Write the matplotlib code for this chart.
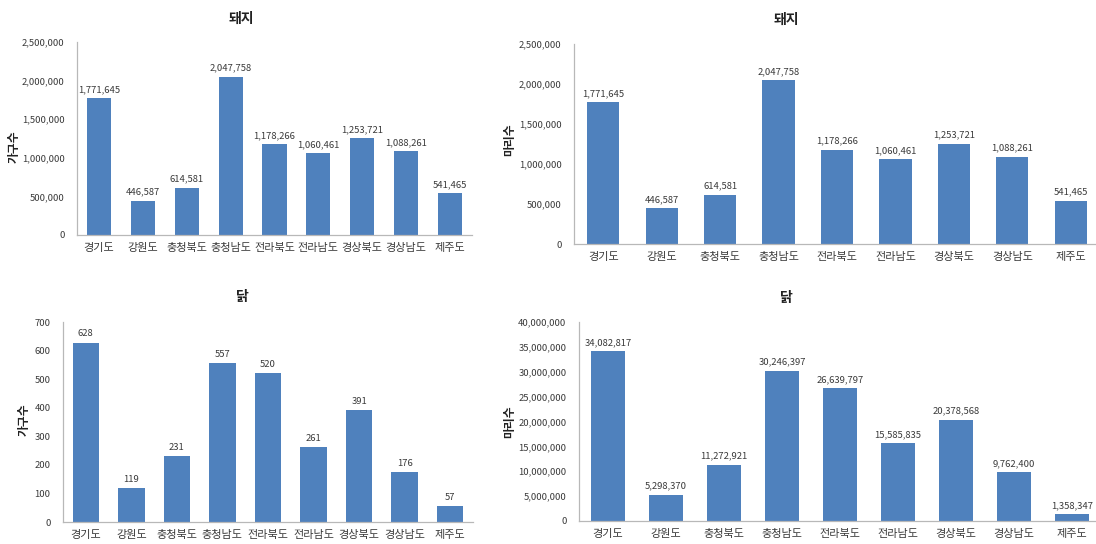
import numpy as np
import matplotlib
matplotlib.use("Agg")
import matplotlib.pyplot as plt
from matplotlib.ticker import FuncFormatter

plt.rcParams['font.family'] = ['Noto Sans CJK KR', 'DejaVu Sans']

# === DATA ===
regions = ['경기도', '강원도', '충청북도', '충청남도', '전라북도', '전라남도', '경상북도', '경상남도', '제주도']
pig_households = [1771645, 446587, 614581, 2047758, 1178266, 1060461, 1253721, 1088261, 541465]
pig_heads = [1771645, 446587, 614581, 2047758, 1178266, 1060461, 1253721, 1088261, 541465]
chicken_households = [628, 119, 231, 557, 520, 261, 391, 176, 57]
chicken_heads = [34082817, 5298370, 11272921, 30246397, 26639797, 15585835, 20378568, 9762400, 1358347]

BAR_COLOR = '#4F81BD'
TEXT_COLOR = '#3a3a3a'
W, H = 1096, 544


def px_axes(fig, left, right, top, bottom):
    return fig.add_axes([left / W, 1 - bottom / H, (right - left) / W, (bottom - top) / H])


def draw_panel(ax, values, ymax, ystep, ylabel, ylabel_xy, title, title_xy, width):
    x = np.arange(len(regions))
    bars = ax.bar(x, values, width=width, color=BAR_COLOR, zorder=2)
    for b, v in zip(bars, values):
        ax.annotate(f'{v:,}', (b.get_x() + b.get_width() / 2, v),
                    xytext=(0, 3), textcoords='offset points',
                    ha='center', va='bottom', fontsize=6.8, color=TEXT_COLOR)
    ax.set_xlim(-0.5, len(regions) - 0.5)
    ax.set_ylim(0, ymax)
    ax.set_yticks(np.arange(0, ymax + 1, ystep))
    ax.yaxis.set_major_formatter(FuncFormatter(lambda v, p: f'{int(v):,}'))
    ax.set_xticks(x)
    ax.set_xticklabels(regions, fontsize=8, color=TEXT_COLOR)
    ax.tick_params(axis='y', length=0, pad=9, labelsize=6.8, labelcolor=TEXT_COLOR)
    ax.tick_params(axis='x', length=0, pad=6)
    for s in ['top', 'right']:
        ax.spines[s].set_visible(False)
    for s in ['left', 'bottom']:
        ax.spines[s].set_color('#b8b8b8')
        ax.spines[s].set_linewidth(0.9)
    fig.text(title_xy[0] / W, 1 - title_xy[1] / H, title, ha='center', va='center',
             fontsize=10, fontweight='bold', color='#222222')
    fig.text(ylabel_xy[0] / W, 1 - ylabel_xy[1] / H, ylabel, ha='center', va='center',
             rotation=90, fontsize=8.5, fontweight='bold', color='#222222')


fig = plt.figure(figsize=(W / 100, H / 100), dpi=100)

ax1 = px_axes(fig, 77, 472, 42, 235)
draw_panel(ax1, pig_households, 2500000, 500000, '가구수', (14, 147), '돼지', (241, 19), 0.55)

ax2 = px_axes(fig, 574, 1100, 44, 244)
draw_panel(ax2, pig_heads, 2500000, 500000, '마리수', (510, 140), '돼지', (786, 20), 0.55)

ax3 = px_axes(fig, 63, 473, 322, 522)
draw_panel(ax3, chicken_households, 700, 100, '가구수', (24, 420), '닭', (242, 297), 0.58)

ax4 = px_axes(fig, 579, 1101, 322, 521)
draw_panel(ax4, chicken_heads, 40000000, 5000000, '마리수', (510, 422), '닭', (786, 298), 0.57)

fig.savefig('out.png', dpi=100)
